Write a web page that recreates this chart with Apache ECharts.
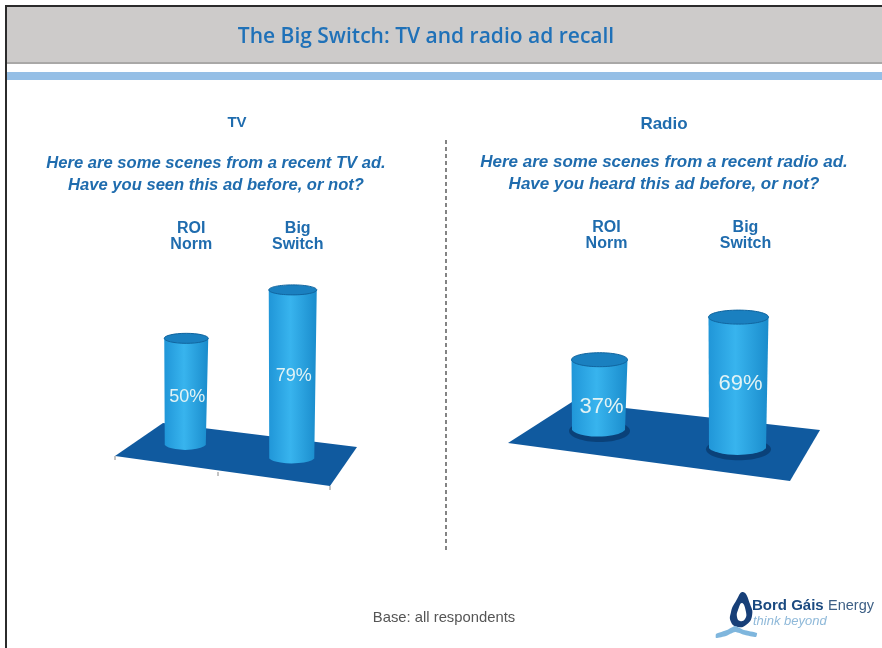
<!DOCTYPE html>
<html>
<head>
<meta charset="utf-8">
<title>The Big Switch</title>
<style>
  html, body { margin: 0; padding: 0; background: #fff; }
  #chart { width: 882px; height: 648px; }
</style>
<script src="https://cdn.jsdelivr.net/npm/echarts@6/dist/echarts.min.js"></script>
</head>
<body>
<div id="chart"></div>
<script>
const categories = ["ROI\nNorm", "Big\nSwitch"];
const tvValues = [50, 79];
const radioValues = [37, 69];

const BLUE = "#1f6cae";
const SANS = "'Liberation Sans', Arial, sans-serif";

// look of each fake-3D panel, the floor tilts down to the right
const tvLook = { rx: [22, 24], ry: [5, 5], lean: -5, tilt: 0.126, fontSize: 18, labelDx: 1, labelDy: [5, 2], shadow: 0 };
const radioLook = { rx: [28, 30], ry: [7, 7], lean: -7, tilt: 0.131, fontSize: 22, labelDx: 2, labelDy: [12, 1], shadow: 4 };

const cylinder = (look) => (params, api) => {
  const i = api.value(0);
  const base = api.coord([i, 0]);
  const top = api.coord([i, api.value(1)]);
  const cx = base[0] + look.lean;
  const shift = look.tilt * (base[0] - api.coord([0, 0])[0]);
  const yBottom = base[1] + shift;
  const yTop = top[1] + shift;
  const rx = look.rx[i];
  const ry = look.ry[i];
  const rxBase = rx - 1.5;
  const body = new echarts.graphic.LinearGradient(0, 0, 1, 0, [
    { offset: 0, color: "#2096d8" },
    { offset: 0.45, color: "#38b4ee" },
    { offset: 1, color: "#1a8ccc" }
  ]);
  const children = [
    {
      type: "path",
      shape: {
        pathData: `M${cx - rx} ${yTop} L${cx - rxBase - 1} ${yBottom} A${rxBase + 1} ${ry + 2} 0 0 0 ${cx + rxBase - 1} ${yBottom} L${cx + rx} ${yTop} Z`
      },
      style: { fill: body }
    },
    {
      type: "ellipse",
      shape: { cx: cx, cy: yTop, rx: rx, ry: ry },
      style: { fill: "#1a80c0", stroke: "#11659f", lineWidth: 1 }
    },
    {
      type: "text",
      style: {
        x: cx + look.labelDx,
        y: (yTop + yBottom) / 2 + look.labelDy[i],
        text: api.value(1) + "%",
        fill: "#e2f3f5",
        font: `${look.fontSize}px ${SANS}`,
        align: "center",
        verticalAlign: "middle"
      }
    }
  ];
  if (look.shadow) {
    children.unshift({
      type: "ellipse",
      shape: { cx: cx, cy: yBottom + 1, rx: rxBase + look.shadow, ry: ry + look.shadow },
      style: { fill: "rgba(5,45,90,0.55)" }
    });
  }
  return { type: "group", children: children };
};

const text = (x, y, str, size, extra) => ({
  type: "text",
  z: 5,
  silent: true,
  style: Object.assign({
    x: x, y: y, text: str, fill: BLUE,
    font: `bold ${size}px ${SANS}`,
    align: "center", verticalAlign: "middle"
  }, extra)
});

const poly = (points, fill, smooth) => ({
  type: "polygon",
  silent: true,
  z: 0,
  shape: { points: points, smooth: smooth || 0 },
  style: { fill: fill }
});

const line = (x1, y1, x2, y2, stroke, width, dash) => ({
  type: "line",
  silent: true,
  z: 1,
  shape: { x1, y1, x2, y2 },
  style: { stroke: stroke, lineWidth: width, lineDash: dash || null }
});

const axisLabel = {
  color: BLUE,
  fontFamily: SANS,
  fontWeight: "bold",
  fontSize: 16,
  lineHeight: 16,
  margin: 0,
  interval: 0
};

const chart = echarts.init(document.getElementById("chart"));

chart.setOption({
  animation: false,
  backgroundColor: "#fff",
  title: {
    text: "The Big Switch: TV and radio ad recall",
    left: 421,
    top: 32,
    textAlign: "center",
    textVerticalAlign: "middle",
    textStyle: { color: "#1f71b8", fontSize: 21, fontWeight: 600, fontFamily: "'Open Sans', sans-serif" }
  },
  grid: [
    { left: 138, width: 213, top: 253, height: 192 },
    { left: 537, width: 278, top: 259, height: 171 }
  ],
  xAxis: [
    { gridIndex: 0, type: "category", position: "top", data: categories, axisLine: { show: false }, axisTick: { show: false }, axisLabel: axisLabel },
    { gridIndex: 1, type: "category", position: "top", data: categories, axisLine: { show: false }, axisTick: { show: false }, axisLabel: Object.assign({}, axisLabel, { margin: 7 }) }
  ],
  yAxis: [
    { gridIndex: 0, type: "value", min: 0, max: 90, show: false },
    { gridIndex: 1, type: "value", min: 0, max: 90, show: false }
  ],
  series: [
    {
      type: "custom", xAxisIndex: 0, yAxisIndex: 0, clip: false,
      renderItem: cylinder(tvLook),
      encode: { x: 0, y: 1 },
      data: tvValues.map((v, i) => [i, v])
    },
    {
      type: "custom", xAxisIndex: 1, yAxisIndex: 1, clip: false,
      renderItem: cylinder(radioLook),
      encode: { x: 0, y: 1 },
      data: radioValues.map((v, i) => [i, v])
    }
  ],
  graphic: [
    // slide frame and header
    { type: "rect", silent: true, z: 0, shape: { x: 6, y: 7, width: 876, height: 55 }, style: { fill: "#cdcbca" } },
    { type: "rect", silent: true, z: 0, shape: { x: 6, y: 62, width: 876, height: 2 }, style: { fill: "#a9a8a7" } },
    { type: "rect", silent: true, z: 0, shape: { x: 6, y: 72, width: 876, height: 8 }, style: { fill: "#95bfe6" } },
    line(5, 6, 882, 6, "#2b2b2b", 2),
    line(6, 5, 6, 648, "#2b2b2b", 2),

    // floors
    poly([[115, 456], [163, 423], [357, 447], [330, 486]], "#105a9f"),
    poly([[508, 443], [572, 402], [820, 430], [790, 481]], "#105a9f"),
    line(115, 456, 115, 460, "#888", 1),
    line(218, 472, 218, 476, "#888", 1),
    line(330, 486, 330, 490, "#888", 1),

    // divider
    line(446, 140, 446, 551, "#333", 1.2, [4, 3]),

    text(237, 123, "TV", 15),
    text(664, 124, "Radio", 17),
    text(216, 163, "Here are some scenes from a recent TV ad.", 16, { font: `italic bold 16.6px ${SANS}` }),
    text(216, 185, "Have you seen this ad before, or not?", 16, { font: `italic bold 16.6px ${SANS}` }),
    text(664, 162, "Here are some scenes from a recent radio ad.", 16, { font: `italic bold 17px ${SANS}` }),
    text(664, 184, "Have you heard this ad before, or not?", 16, { font: `italic bold 17px ${SANS}` }),
    text(444, 618, "Base: all respondents", 14, { font: `14.8px ${SANS}`, fill: "#555" }),

    // logo
    Object.assign(poly([[743, 592], [750, 604], [752, 616], [746, 625], [738, 627], [731, 622], [731, 612], [736, 601]], "#173f78", 0.5), { z: 5 }),
    Object.assign(poly([[742, 603], [746, 612], [745, 619], [740, 621], [737, 617], [738, 610]], "#fff", 0.5), { z: 5 }),
    Object.assign(poly([[716, 634], [727, 630], [735, 626], [744, 630], [757, 633], [756, 637], [745, 635], [735, 632], [726, 636], [716, 638]], "#7fb6dd", 0.15), { z: 5 }),
    text(752, 606, "Bord Gáis", 15, { align: "left", fill: "#1b4a80" }),
    text(828, 606, "Energy", 15, { align: "left", fill: "#3d5f85", font: `14.5px ${SANS}` }),
    text(753, 621, "think beyond", 13, { align: "left", fill: "#8fb9d9", font: `italic 13px ${SANS}` })
  ]
});
</script>
</body>
</html>
